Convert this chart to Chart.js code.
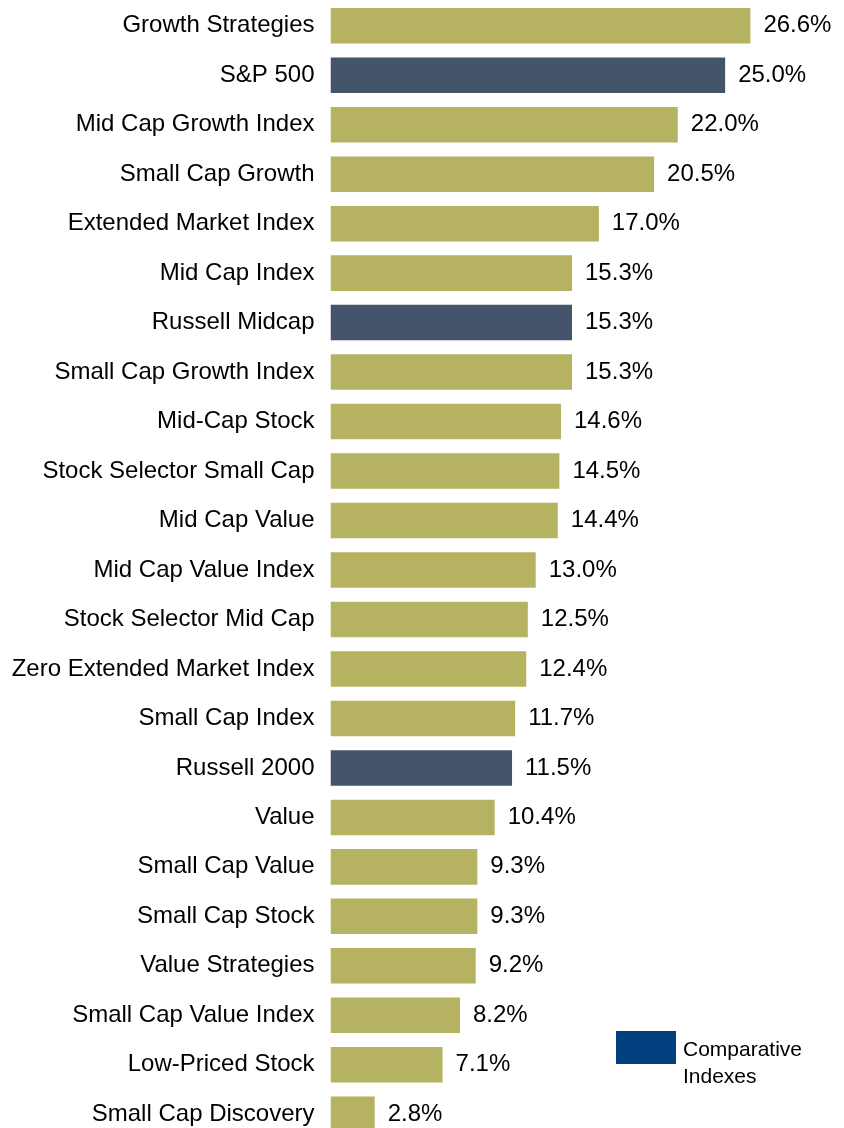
<!DOCTYPE html>
<html>
<head>
<meta charset="utf-8">
<script src="https://cdn.jsdelivr.net/npm/chart.js@4.4.1/dist/chart.umd.min.js"></script>
<style>
  html, body { margin: 0; padding: 0; background: #ffffff; overflow: hidden; }
  #wrap { position: relative; width: 844px; height: 1140px; }
  #legend { position: absolute; left: 616px; top: 1031px; font-family: "Liberation Sans", Arial, sans-serif; font-size: 21px; color: #000; }
  #legend .box { position: absolute; left: 0; top: 0; width: 60px; height: 33px; background: #00407f; }
  #legend .txt { position: absolute; left: 67px; top: 4px; line-height: 27px; white-space: nowrap; }
</style>
</head>
<body>
<div id="wrap">
  <canvas id="c" width="844" height="1140"></canvas>
  <div id="legend"><div class="box"></div><div class="txt">Comparative<br>Indexes</div></div>
</div>
<script>
const categories = [
  "Growth Strategies", "S&P 500", "Mid Cap Growth Index", "Small Cap Growth",
  "Extended Market Index", "Mid Cap Index", "Russell Midcap", "Small Cap Growth Index",
  "Mid-Cap Stock", "Stock Selector Small Cap", "Mid Cap Value", "Mid Cap Value Index",
  "Stock Selector Mid Cap", "Zero Extended Market Index", "Small Cap Index", "Russell 2000",
  "Value", "Small Cap Value", "Small Cap Stock", "Value Strategies",
  "Small Cap Value Index", "Low-Priced Stock", "Small Cap Discovery"
];
const values = [26.6, 25.0, 22.0, 20.5, 17.0, 15.3, 15.3, 15.3, 14.6, 14.5, 14.4, 13.0,
  12.5, 12.4, 11.7, 11.5, 10.4, 9.3, 9.3, 9.2, 8.2, 7.1, 2.8];
const comparativeIndexes = ["S&P 500", "Russell Midcap", "Russell 2000"];
const valueLabels = values.map(v => v.toFixed(1) + "%");

const GOLD = "#b5b262";
const SLATE = "#44546a";

const valueLabelPlugin = {
  id: "valueLabels",
  afterDatasetsDraw(chart) {
    const ctx = chart.ctx;
    const meta = chart.getDatasetMeta(0);
    ctx.save();
    ctx.font = '24px "Liberation Sans", Arial, sans-serif';
    ctx.fillStyle = "#000";
    ctx.textAlign = "left";
    ctx.textBaseline = "middle";
    meta.data.forEach((bar, i) => {
      ctx.fillText(valueLabels[i], bar.x + 13, bar.y);
    });
    ctx.restore();
  }
};

new Chart(document.getElementById("c"), {
  type: "bar",
  data: {
    labels: categories,
    datasets: [{
      data: values,
      backgroundColor: categories.map(c => comparativeIndexes.includes(c) ? SLATE : GOLD),
      borderWidth: 0,
      categoryPercentage: 1,
      barPercentage: 0.718
    }]
  },
  options: {
    indexAxis: "y",
    responsive: false,
    animation: false,
    devicePixelRatio: 1,
    layout: { padding: { top: 1, bottom: 1, left: 0, right: 0 } },
    plugins: { legend: { display: false }, tooltip: { enabled: false } },
    scales: {
      x: { display: false, min: 0, max: 32.53 },
      y: {
        grid: { display: false, drawTicks: false },
        border: { display: false },
        ticks: {
          color: "#000",
          padding: 16,
          font: { family: '"Liberation Sans", Arial, sans-serif', size: 24 }
        },
        afterFit(scale) {
          scale.width = 330.5;
          scale.paddingTop = 0;
          scale.paddingBottom = 0;
        }
      }
    }
  },
  plugins: [valueLabelPlugin]
});
</script>
</body>
</html>
